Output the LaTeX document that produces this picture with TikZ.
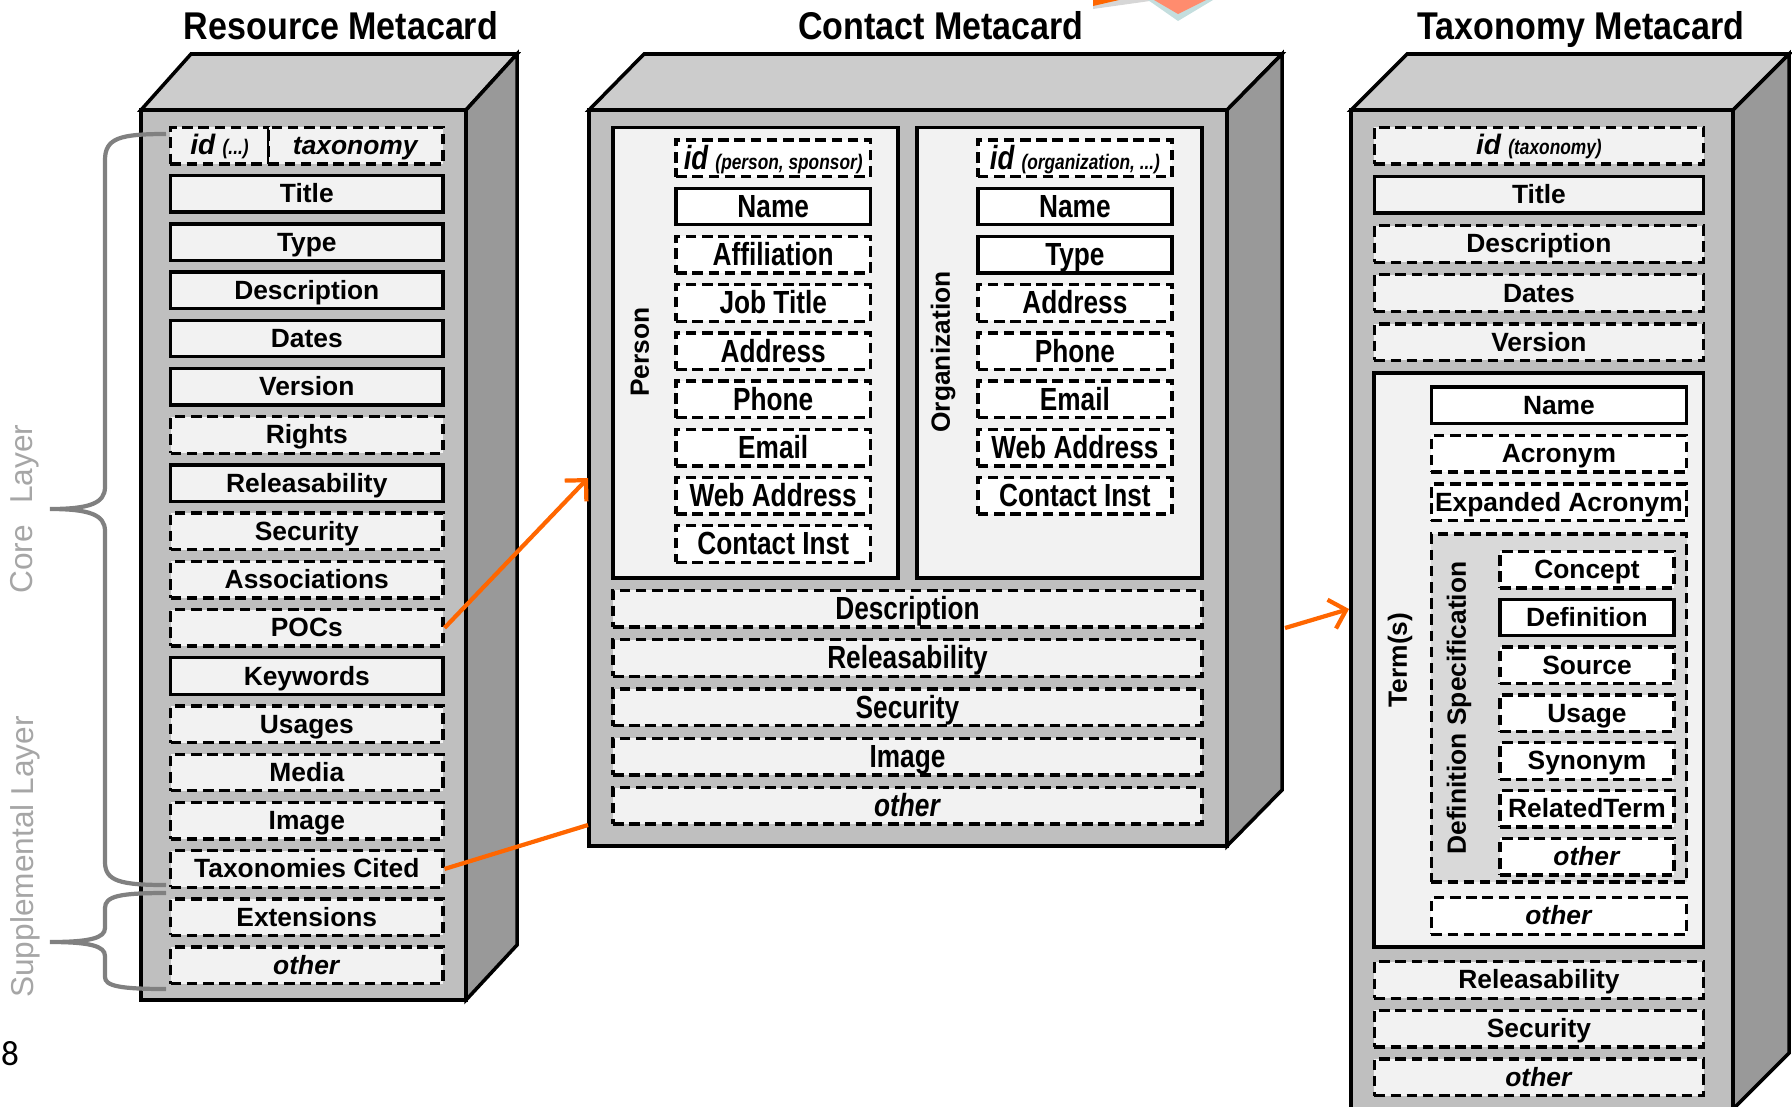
\documentclass[tikz,border=0pt]{standalone}
\usepackage{fontspec}
\setmainfont{Liberation Sans}
\newfontfamily\narrowsf[FakeStretch=0.82]{Liberation Sans}
\newfontfamily\headsf[FakeStretch=0.88]{Liberation Sans}
\newfontfamily\pagesf{Carlito}
\usetikzlibrary{positioning,arrows.meta}
\definecolor{frontgray}{RGB}{191,191,191}
\definecolor{topgray}{RGB}{204,204,204}
\definecolor{sidegray}{RGB}{153,153,153}
\definecolor{cellgray}{RGB}{242,242,242}
\definecolor{specgray}{RGB}{217,217,217}
\definecolor{bracegray}{RGB}{128,128,128}
\definecolor{layergray}{RGB}{166,166,166}
\definecolor{linkorange}{RGB}{255,102,0}
\definecolor{artgray}{RGB}{214,214,214}
\definecolor{artcyan}{RGB}{196,222,222}
\definecolor{artsalmon}{RGB}{255,140,110}
\newcommand{\idpart}[1]{{\fontsize{6}{6}\selectfont\narrowsf\bfseries\itshape #1}}
\newcommand{\idline}[2]{{\fontsize{#1}{#1}\selectfont\itshape id} \idpart{#2}}

\begin{document}
\begin{tikzpicture}
  [x=0.01cm,y=-0.01cm,
   faceN/.style={draw=black,line width=1pt},
   cellN/.style={draw,line width=0.95pt,fill=cellgray,minimum height=0.365cm,inner sep=0pt,
     font=\fontsize{7.5}{8}\selectfont\bfseries,text height=5.4pt,text depth=0.3pt},
   optN/.style={cellN,dash pattern=on 3pt off 1.6pt},
   whiteN/.style={fill=white},
   narrowN/.style={font=\fontsize{9.1}{10}\selectfont\narrowsf\bfseries,text height=6.6pt,text depth=0.4pt},
   panelN/.style={draw,line width=1.1pt,fill=cellgray,inner sep=0pt},
   labelN/.style={font=\fontsize{7.5}{8}\selectfont\bfseries,inner sep=0pt},
   headN/.style={font=\fontsize{11}{12}\selectfont\headsf\bfseries,anchor=base,inner sep=0pt},
   layerN/.style={font=\fontsize{9}{10}\selectfont,text=layergray,inner sep=0pt},
   braceN/.style={draw=bracegray,line width=1.2pt},
   linkN/.style={draw=linkorange,line width=1.2pt},
   resW/.style={minimum width=2.72cm},
   perW/.style={minimum width=1.94cm},
   ctW/.style={minimum width=5.885cm},
   taxW/.style={minimum width=3.29cm},
   termW/.style={minimum width=2.55cm},
   subW/.style={minimum width=1.74cm},
   node distance=0.0835cm]

  \useasboundingbox (0,0) rectangle (1792,1106);

  % piece of a graphic cut off at the top
  \fill[artgray] (1093,0) -- (1093,9) -- (1150,1) -- (1150,0) -- cycle;
  \fill[linkorange] (1093,0) -- (1093,6) -- (1119,0) -- cycle;
  \fill[artcyan] (1148,0) -- (1178,21) -- (1213,0) -- cycle;
  \fill[artsalmon] (1154,0) -- (1178,14) -- (1206,0) -- cycle;

  % headings
  \node[headN] (resHead) at (341,39) {Resource Metacard};
  \node[headN] (ctHead) at (941,39) {Contact Metacard};
  \node[headN] (taxHead) at (1581,39) {Taxonomy Metacard};

  % the three boxes
  \filldraw[faceN,fill=topgray] (141,110) -- (191,54) -- (517,54) -- (466,110) -- cycle;
  \filldraw[faceN,fill=sidegray] (466,110) -- (517,54) -- (517,945) -- (466,1000) -- cycle;
  \filldraw[faceN,fill=frontgray] (141,110) rectangle (466,1000);

  \filldraw[faceN,fill=topgray] (589,110) -- (644,54) -- (1282,54) -- (1227,110) -- cycle;
  \filldraw[faceN,fill=sidegray] (1227,110) -- (1282,54) -- (1282,790) -- (1227,846) -- cycle;
  \filldraw[faceN,fill=frontgray] (589,110) rectangle (1227,846);

  \filldraw[faceN,fill=topgray] (1351,110) -- (1407,54) -- (1789,54) -- (1733,110) -- cycle;
  \filldraw[faceN,fill=sidegray] (1733,110) -- (1789,54) -- (1789,1053) -- (1733,1109) -- cycle;
  \filldraw[faceN,fill=frontgray] (1351,110) rectangle (1733,1109);

  % resource metacard
  \node[optN,minimum width=0.98cm] (resId) at (219.5,145.7) {\idline{8}{(...)}};
  \node[optN,minimum width=1.745cm] (resTax) at (355.8,145.7) {\textit{taxonomy}};
  \node[cellN,resW] (resTitle) at (306.8,193.9) {Title};
  \node[cellN,resW] (resType) [below=of resTitle] {Type};
  \node[cellN,resW] (resDesc) [below=of resType] {Description};
  \node[cellN,resW] (resDates) [below=of resDesc] {Dates};
  \node[cellN,resW] (resVersion) [below=of resDates] {Version};
  \node[optN,resW] (resRights) [below=of resVersion] {Rights};
  \node[cellN,resW] (resRel) [below=of resRights] {Releasability};
  \node[optN,resW] (resSec) [below=of resRel] {Security};
  \node[optN,resW] (resAssoc) [below=of resSec] {Associations};
  \node[optN,resW] (resPocs) [below=of resAssoc] {POCs};
  \node[cellN,resW] (resKeys) [below=of resPocs] {Keywords};
  \node[optN,resW] (resUsages) [below=of resKeys] {Usages};
  \node[optN,resW] (resMedia) [below=of resUsages] {Media};
  \node[optN,resW] (resImage) [below=of resMedia] {Image};
  \node[optN,resW] (resTaxCited) [below=of resImage] {Taxonomies Cited};
  \node[optN,resW] (resExt) [below=of resTaxCited] {Extensions};
  \node[optN,resW] (resOther) [below=of resExt] {\textit{other}};

  % layers
  \draw[braceN] (166,134) .. controls (120,134) and (105,138) .. (105,160) -- (105,487)
    .. controls (105,503) and (90,509) .. (50,509) .. controls (90,509) and (105,515) .. (105,531)
    -- (105,862) .. controls (105,881) and (120,885) .. (166,885);
  \draw[braceN] (166,893) .. controls (120,893) and (105,896) .. (105,908) -- (105,928)
    .. controls (105,938) and (90,942) .. (50,942) .. controls (90,942) and (105,946) .. (105,956)
    -- (105,977) .. controls (105,986) and (120,989) .. (166,989);
  \node[layerN,rotate=90] (coreL) at (25,509) {Core\hspace{6pt}Layer};
  \node[layerN,rotate=90] (suppL) at (25,857) {Supplemental Layer};

  % contact metacard
  \node[panelN,minimum width=2.845cm,minimum height=4.50cm] (person) at (755.5,352.6) {};
  \node[panelN,minimum width=2.845cm,minimum height=4.50cm] (organization) at (1059.5,352.6) {};
  \node[labelN,rotate=90] (personL) at (640,352) {Person};
  \node[labelN,rotate=90] (orgL) at (943,352) {Organization};

  \node[optN,whiteN,narrowN,perW] (pId) at (773.2,158.3) {\idline{9.5}{(person, sponsor)}};
  \node[cellN,whiteN,narrowN,perW] (pName) [below=of pId] {Name};
  \node[optN,whiteN,narrowN,perW] (pAffil) [below=of pName] {Affiliation};
  \node[optN,whiteN,narrowN,perW] (pJob) [below=of pAffil] {Job Title};
  \node[optN,whiteN,narrowN,perW] (pAddr) [below=of pJob] {Address};
  \node[optN,whiteN,narrowN,perW] (pPhone) [below=of pAddr] {Phone};
  \node[optN,whiteN,narrowN,perW] (pEmail) [below=of pPhone] {Email};
  \node[optN,whiteN,narrowN,perW] (pWeb) [below=of pEmail] {Web Address};
  \node[optN,whiteN,narrowN,perW] (pInst) [below=of pWeb] {Contact Inst};

  \node[optN,whiteN,narrowN,perW] (oId) at (1074.9,158.3) {\idline{9.5}{(organization, ...)}};
  \node[cellN,whiteN,narrowN,perW] (oName) [below=of oId] {Name};
  \node[cellN,whiteN,narrowN,perW] (oType) [below=of oName] {Type};
  \node[optN,whiteN,narrowN,perW] (oAddr) [below=of oType] {Address};
  \node[optN,whiteN,narrowN,perW] (oPhone) [below=of oAddr] {Phone};
  \node[optN,whiteN,narrowN,perW] (oEmail) [below=of oPhone] {Email};
  \node[optN,whiteN,narrowN,perW] (oWeb) [below=of oEmail] {Web Address};
  \node[optN,whiteN,narrowN,perW] (oInst) [below=of oWeb] {Contact Inst};

  \node[optN,narrowN,ctW] (ctDesc) at (907.5,608.6) {Description};
  \node[optN,narrowN,ctW] (ctRel) [below=0.0945cm of ctDesc] {Releasability};
  \node[optN,narrowN,ctW] (ctSec) [below=0.0945cm of ctRel] {Security};
  \node[optN,narrowN,ctW] (ctImage) [below=0.0945cm of ctSec] {Image};
  \node[optN,narrowN,ctW] (ctOther) [below=0.0945cm of ctImage] {\textit{other}};

  % taxonomy metacard
  \node[optN,taxW] (tId) at (1538.9,145.7) {\idline{8}{(taxonomy)}};
  \node[cellN,taxW] (tTitle) [below=0.0925cm of tId] {Title};
  \node[optN,taxW] (tDesc) [below=0.0925cm of tTitle] {Description};
  \node[optN,taxW] (tDates) [below=0.0925cm of tDesc] {Dates};
  \node[optN,taxW] (tVersion) [below=0.0925cm of tDates] {Version};

  \node[panelN,minimum width=3.29cm,minimum height=5.74cm] (terms) at (1538.9,660) {};
  \node[labelN,rotate=90] (termsL) at (1400,660) {Term(s)};
  \node[cellN,whiteN,termW] (tmName) at (1558.9,405.2) {Name};
  \node[optN,whiteN,termW] (tmAcr) [below=0.0865cm of tmName] {Acronym};
  \node[optN,whiteN,termW] (tmExp) [below=0.0865cm of tmAcr] {Expanded Acronym};

  \node[optN,fill=specgray,minimum width=2.55cm,minimum height=3.475cm] (spec) at (1558.9,708) {};
  \node[labelN,rotate=90] (specL) at (1459,708) {Definition Specification};
  \node[optN,whiteN,subW] (sConcept) at (1587,569.7) {Concept};
  \node[cellN,whiteN,subW] (sDef) [below=0.0795cm of sConcept] {Definition};
  \node[optN,whiteN,subW] (sSource) [below=0.0795cm of sDef] {Source};
  \node[optN,whiteN,subW] (sUsage) [below=0.0795cm of sSource] {Usage};
  \node[optN,whiteN,subW] (sSyn) [below=0.0795cm of sUsage] {Synonym};
  \node[optN,whiteN,subW] (sRel) [below=0.0795cm of sSyn] {RelatedTerm};
  \node[optN,whiteN,subW] (sOther) [below=0.0795cm of sRel] {\textit{other}};
  \node[optN,whiteN,termW] (tmOther) at (1558.9,916) {\textit{other}};

  \node[optN,taxW] (tRel) at (1538.9,980) {Releasability};
  \node[optN,taxW] (tSec) [below=0.0875cm of tRel] {Security};
  \node[optN,taxW] (tOther) [below=0.0875cm of tSec] {\textit{other}};

  % links
  \coordinate (ctIn1) at (588,478);
  \coordinate (ctIn2) at (588,825);
  \coordinate (ctOut) at (1285,628);
  \coordinate (taxIn) at (1349,609);
  \draw[linkN,-{Straight Barb[length=1.5mm,width=3mm]}] (resPocs.east) -- (ctIn1);
  \draw[linkN] (resTaxCited.east) -- (ctIn2);
  \draw[linkN,-{Straight Barb[length=1.5mm,width=3mm]}] (ctOut) -- (taxIn);

  \node[font=\fontsize{10}{12}\selectfont\pagesf,inner sep=0pt] (slideNo) at (10,1054) {8};
\end{tikzpicture}
\end{document}
